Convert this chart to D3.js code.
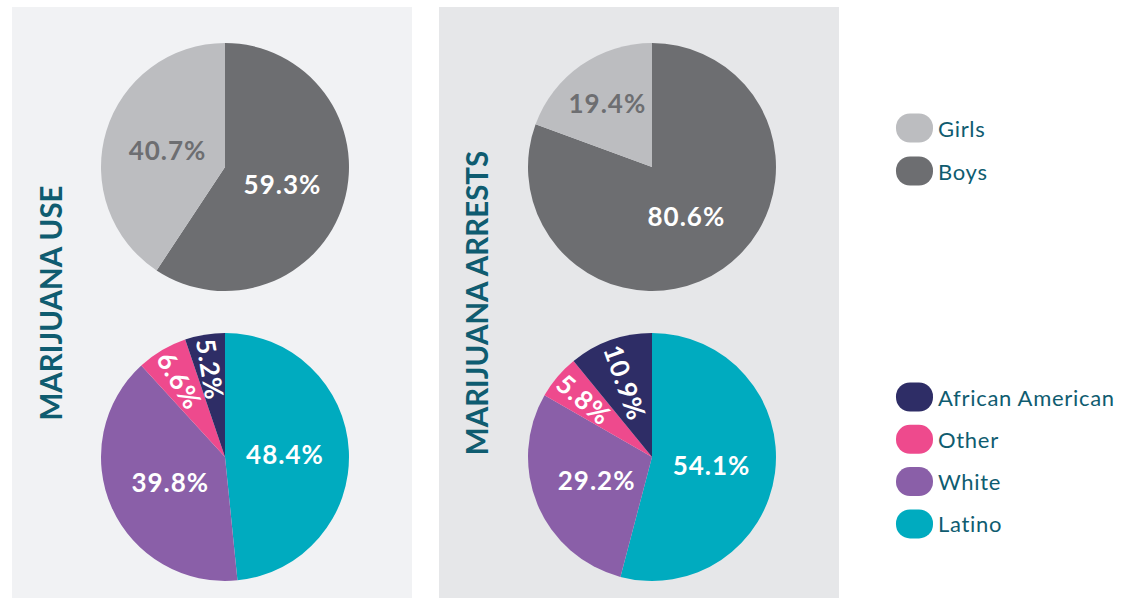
<!DOCTYPE html>
<html><head><meta charset="utf-8">
<script src="https://cdn.jsdelivr.net/npm/d3@7"></script>
<style>body{margin:0;background:#fff}svg{display:block}</style>
</head><body><svg id="c" width="1133" height="598"></svg>
<script>
// ---- data ----
const panels = ["MARIJUANA USE", "MARIJUANA ARRESTS"];
const genderCats = ["Boys", "Girls"];
const genderUse = [59.3, 40.7];
const genderArrests = [80.6, 19.4];
const raceCats = ["Latino", "White", "Other", "African American"];
const raceUse = [48.4, 39.8, 6.6, 5.2];
const raceArrests = [54.1, 29.2, 5.8, 10.9];
const legendGender = ["Girls", "Boys"];
const legendRace = ["African American", "Other", "White", "Latino"];

// ---- styles ----
const color = d3.scaleOrdinal()
  .domain(["Girls","Boys","African American","Other","White","Latino"])
  .range(["#bcbdc0","#6d6e71","#2e2d66","#ee4a8d","#8a5fa8","#00abbf"]);
const panelFill = ["#f1f2f4","#e6e7e9"];
const teal = "#0f5c70";
const font = "Lato, 'Open Sans', sans-serif";

const svg = d3.select("#c");
const R = 124;
const panelX = [12, 439], panelW = 400;
const pieCX = [225, 652];
const pieCY = [167, 457];

const pie = d3.pie().sort(null).value(d => d.v);
const arc = d3.arc().innerRadius(0).outerRadius(R);

function drawPie(cx, cy, cats, vals) {
  const g = svg.append("g").attr("transform", `translate(${cx},${cy})`);
  const data = pie(cats.map((c, i) => ({c, v: vals[i]})));
  g.selectAll("path").data(data).join("path")
    .attr("d", arc).attr("fill", d => color(d.data.c));
  data.forEach(d => {
    const mid = (d.startAngle + d.endAngle) / 2;
    const small = d.data.v < 15;
    const lr = small ? (d.data.v > 10 ? 79 : 89) : (d.data.c === "Girls" && d.data.v < 30 ? 78 : 60);
    const x = Math.sin(mid) * lr, y = -Math.cos(mid) * lr;
    const t = g.append("text")
      .attr("text-anchor", "middle").attr("dominant-baseline", "central")
      .attr("font-family", font).attr("font-weight", 700).attr("font-size", 26)
      .attr("letter-spacing", 1)
      .attr("fill", d.data.c === "Girls" ? "#6d6e71" : "#ffffff")
      .text(d3.format(".1f")(d.data.v) + "%");
    if (small) {
      const rot = mid * 180 / Math.PI - 270;
      t.attr("transform", `translate(${x},${y}) rotate(${rot})`);
    } else {
      t.attr("x", x).attr("y", y);
    }
  });
}

panels.forEach((p, i) => {
  svg.append("rect").attr("x", panelX[i]).attr("y", 7)
    .attr("width", panelW).attr("height", 598 - 7).attr("fill", panelFill[i]);
});

const titleX = [50, 476];
panels.forEach((p, i) => {
  svg.append("text")
    .attr("transform", `translate(${titleX[i]},303) rotate(-90)`)
    .attr("text-anchor", "middle").attr("dominant-baseline", "central")
    .attr("font-family", font).attr("font-weight", 700).attr("font-size", 29.5)
    .attr("fill", teal).text(p);
});

drawPie(pieCX[0], pieCY[0], genderCats, genderUse);
drawPie(pieCX[1], pieCY[0], genderCats, genderArrests);
drawPie(pieCX[0], pieCY[1], raceCats, raceUse);
drawPie(pieCX[1], pieCY[1], raceCats, raceArrests);

function legend(items, y0, step) {
  const yScale = d3.scalePoint().domain(items).range([y0, y0 + step * (items.length - 1)]);
  const g = svg.append("g");
  items.forEach(it => {
    const y = yScale(it);
    g.append("rect").attr("x", 896).attr("y", y - 14.5).attr("width", 37).attr("height", 29)
      .attr("rx", 14).attr("ry", 14).attr("fill", color(it));
    g.append("text").attr("x", 938).attr("y", y).attr("dominant-baseline", "central")
      .attr("font-family", font).attr("font-size", 22).attr("letter-spacing", 0.7)
      .attr("fill", teal).text(it);
  });
}
legend(legendGender, 128, 43);
legend(legendRace, 397, 42.3);
</script></body></html>
